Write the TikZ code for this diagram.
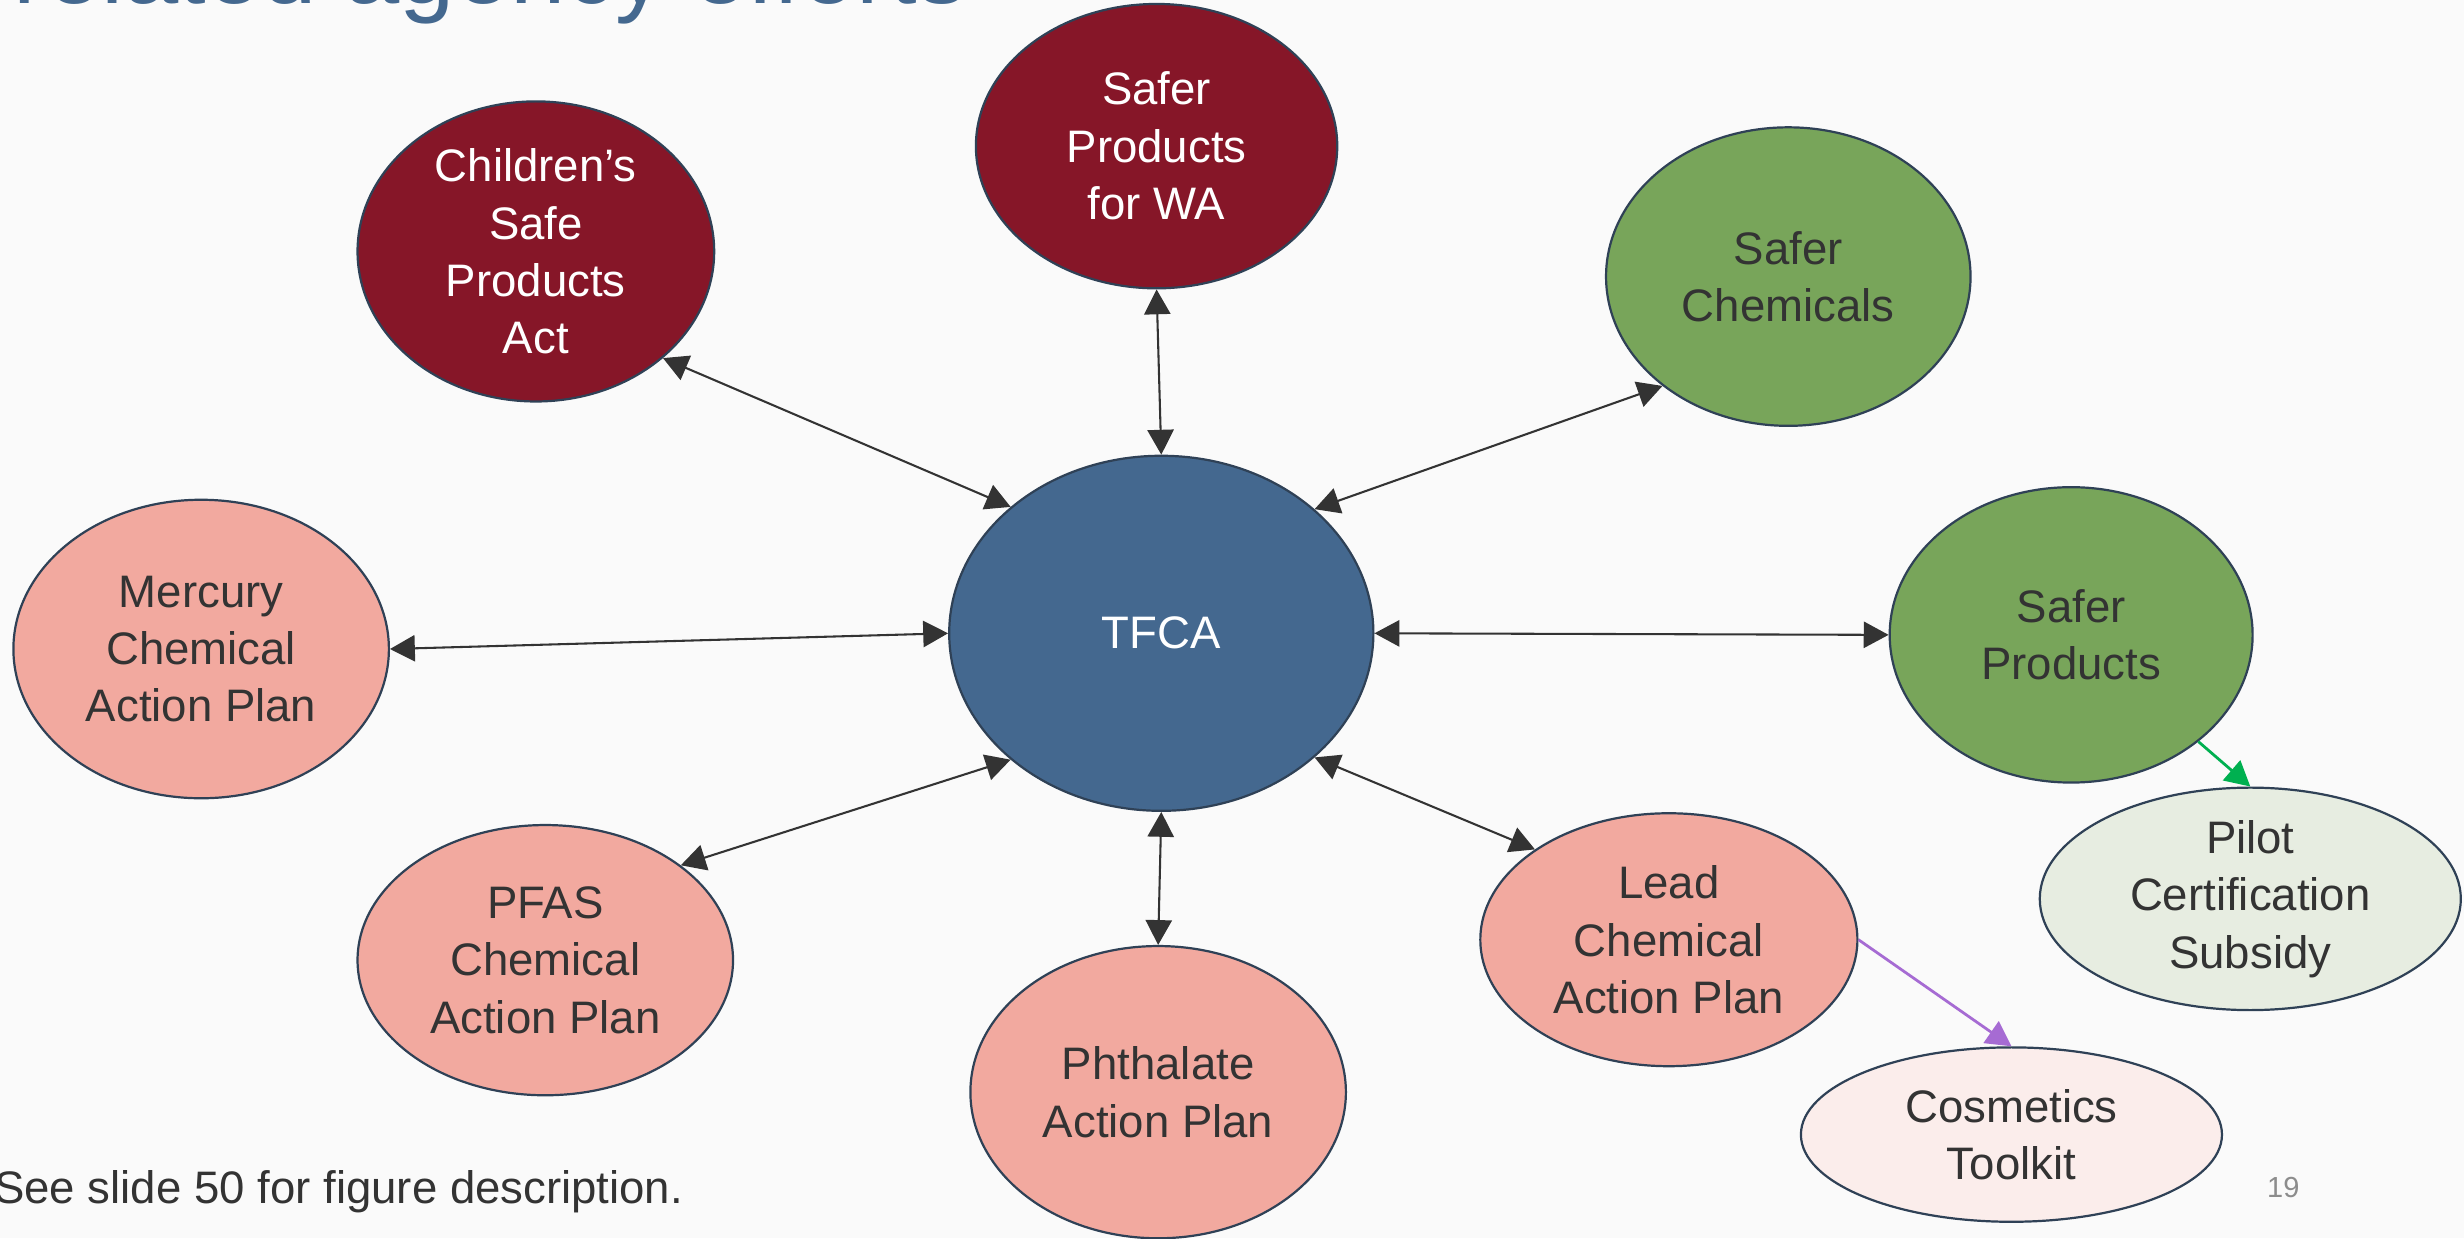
\documentclass[tikz,border=0pt]{standalone}
\usepackage{fontspec}
\setmainfont{Liberation Sans}
\usetikzlibrary{shapes.geometric, arrows.meta}
\definecolor{paper}{HTML}{FAFAFA}
\definecolor{edge}{HTML}{2F4156}
\definecolor{ink}{HTML}{333333}
\definecolor{titleblue}{HTML}{44688F}
\definecolor{tfcablue}{HTML}{44688F}
\definecolor{WAred}{HTML}{861628}
\definecolor{safergreen}{HTML}{78A55A}
\definecolor{planpink}{HTML}{F2A99F}
\definecolor{pilotfill}{HTML}{E7EDE1}
\definecolor{toolfill}{HTML}{FBEDEB}
\definecolor{pilotarrow}{HTML}{00B050}
\definecolor{toolarrow}{HTML}{A66BD3}
\definecolor{pagegray}{HTML}{8C8C8C}

\begin{document}
\begin{tikzpicture}[x=0.02cm, y=-0.02cm,
		bubble/.style={draw=edge, line width=0.8pt, ellipse, inner sep=0pt, align=center, text=ink, font=\fontsize{16.5}{20.8}\selectfont},
		link/.style={<->, >={Triangle[length=9pt, width=9.5pt]}, draw=ink, line width=0.75pt},
		feed/.style={->, >={Triangle[length=9pt, width=9.5pt]}, line width=1pt}]
		
		% Page
		\fill[paper] (0,0) rectangle (1568,788);
		\useasboundingbox (0,0) rectangle (1568,788);
		
		% Title, cut at the top edge
		\node[anchor=base west, inner sep=0pt, text=titleblue, font=\fontsize{36}{40}\selectfont] (title) at (8,2.5) {related agency efforts};
		
		% Nodes
		\node[bubble, fill=tfcablue, text=white, minimum width=5.4cm, minimum height=4.52cm] (tfca) at (739,403) {TFCA};
		
		\node[bubble, fill=WAred, text=white, minimum width=4.6cm, minimum height=3.62cm] (spwa) at (736,93) {Safer\\Products\\for WA};
		\node[bubble, fill=WAred, text=white, minimum width=4.54cm, minimum height=3.82cm] (cspa) at (341,160) {Children’s\\Safe\\Products\\Act};
		
		\node[bubble, fill=safergreen, minimum width=4.64cm, minimum height=3.8cm] (chem) at (1138,176) {Safer\\Chemicals};
		\node[bubble, fill=safergreen, minimum width=4.62cm, minimum height=3.76cm] (prod) at (1318,404) {Safer\\Products};
		
		\node[bubble, fill=planpink, minimum width=4.78cm, minimum height=3.8cm] (mercury) at (128,413) {Mercury\\Chemical\\Action Plan};
		\node[bubble, fill=planpink, minimum width=4.78cm, minimum height=3.44cm] (pfas) at (347,611) {PFAS\\Chemical\\Action Plan};
		\node[bubble, fill=planpink, minimum width=4.78cm, minimum height=3.72cm] (phthalate) at (737,695) {Phthalate\\Action Plan};
		\node[bubble, fill=planpink, minimum width=4.8cm, minimum height=3.22cm] (lead) at (1062,598) {Lead\\Chemical\\Action Plan};
		
		\node[bubble, fill=pilotfill, minimum width=5.36cm, minimum height=2.52cm] (pilot) at (1432,572) {Pilot\\Certification\\Subsidy};
		\node[bubble, fill=toolfill, minimum width=5.36cm, minimum height=2.22cm] (toolkit) at (1280,722) {Cosmetics\\Toolkit};
		
		% Connections
		\draw[link] (cspa.-40.4) -- (tfca.140.2);
		\draw[link] (spwa.-90) -- (tfca.90);
		\draw[link] (chem.-139.9) -- (tfca.39.8);
		\draw[link] (mercury.0) -- (tfca.180);
		\draw[link] (tfca.0) -- (prod.180);
		\draw[link] (pfas.35.8) -- (tfca.-140.6);
		\draw[link] (phthalate.90) -- (tfca.-90);
		\draw[link] (tfca.-39.8) -- (lead.146.6);
		
		\draw[feed, draw=pilotarrow, fill=pilotarrow] (prod.-40.1) -- (pilot.90);
		\draw[feed, draw=toolarrow, fill=toolarrow] (lead.0) -- (toolkit.90);
		
		% Footer
		\node[anchor=base west, inner sep=0pt, text=ink, font=\fontsize{16.5}{20}\selectfont] (note) at (-4,766) {See slide 50 for figure description.};
		\node[text=pagegray, font=\fontsize{10.5}{12}\selectfont] (pagenum) at (1453,756) {19};
	\end{tikzpicture}
\end{document}
